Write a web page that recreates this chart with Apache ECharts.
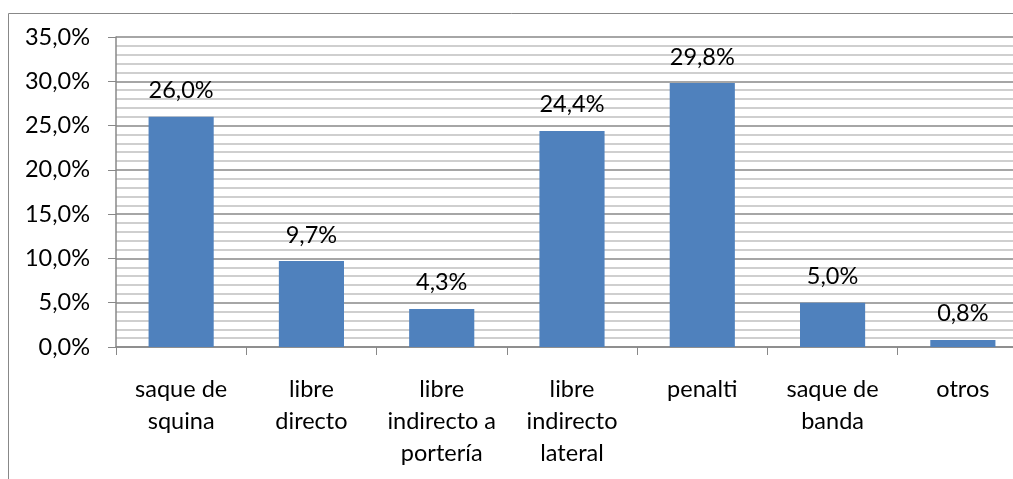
<!DOCTYPE html>
<html>
<head>
<meta charset="utf-8">
<script src="https://cdn.jsdelivr.net/npm/echarts@6/dist/echarts.min.js"></script>
<style>
    html, body { margin: 0; padding: 0; background: #fff; }
    #chart { width: 1013px; height: 479px; }
</style>
</head>
<body>
<div id="chart"></div>
<script>
    let categories = ['saque de\nsquina', 'libre\ndirecto', 'libre\nindirecto a\nportería', 'libre\nindirecto\nlateral',
        'penalti', 'saque de\nbanda', 'otros'];
    let values = [26.0, 9.7, 4.3, 24.4, 29.8, 5.0, 0.8];
    let yTicks = { min: 0, max: 35, interval: 5 };

    let fontFamily = 'Lato, "Open Sans", sans-serif';
    function pct(val) {
        return Number(val).toFixed(1).replace('.', ',') + '%';
    }

    let chart = echarts.init(document.getElementById('chart'));
    let option = {
        animation: false,
        textStyle: { fontFamily: fontFamily },
        graphic: [
            {
                type: 'rect',
                shape: { x: 8.5, y: 13.5, width: 1100, height: 600 },
                style: { fill: 'none', stroke: '#888', lineWidth: 1 },
                silent: true
            }
        ],
        grid: {
            left: 116,
            top: 37,
            width: 912,
            height: 310,
            outerBoundsMode: 'none',
            containLabel: false
        },
        xAxis: {
            type: 'category',
            data: categories,
            axisLine: { lineStyle: { color: '#888', width: 1.5 } },
            axisTick: { show: true, alignWithLabel: false, length: 8, lineStyle: { color: '#888' } },
            axisLabel: {
                color: '#000',
                fontSize: 23.5,
                lineHeight: 32,
                margin: 26,
                interval: 0,
                fontFamily: fontFamily
            },
            splitLine: { show: false }
        },
        yAxis: {
            type: 'value',
            min: yTicks.min,
            max: yTicks.max,
            interval: yTicks.interval,
            axisLine: { show: true, lineStyle: { color: '#888', width: 1.5 } },
            axisTick: { show: true, length: 8, lineStyle: { color: '#888' } },
            axisLabel: {
                color: '#000',
                fontSize: 23.5,
                margin: 26,
                fontFamily: fontFamily,
                formatter: pct
            },
            splitLine: { show: true, lineStyle: { color: '#888', width: 1.5 } },
            minorTick: { show: false, splitNumber: 5 },
            minorSplitLine: { show: true, lineStyle: { color: '#c0c0c0', width: 1.5 } }
        },
        series: [
            {
                type: 'bar',
                data: values,
                barCategoryGap: '50%',
                itemStyle: { color: '#4f81bd' },
                label: {
                    show: true,
                    position: 'top',
                    distance: 14,
                    color: '#000',
                    fontSize: 23.5,
                    fontFamily: fontFamily,
                    formatter: function (p) { return pct(p.value); }
                }
            }
        ]
    };
    chart.setOption(option);
</script>
</body>
</html>
